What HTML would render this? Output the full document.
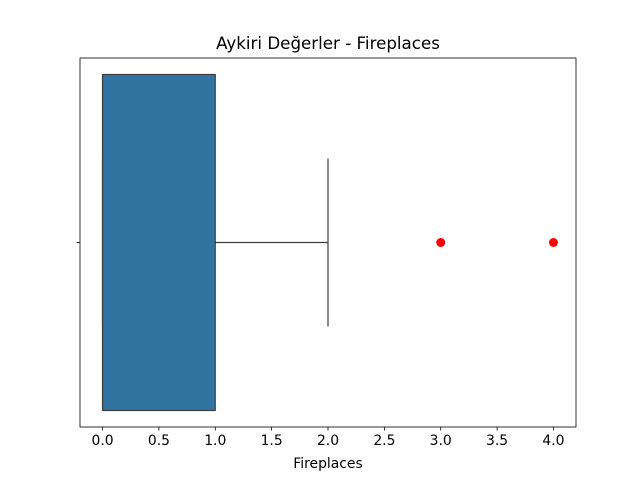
<!DOCTYPE html>
<html><head><meta charset="utf-8"><style>body{margin:0;background:#fff}svg{display:block}text{font-family:"DejaVu Sans","Liberation Sans",sans-serif}</style></head>
<body>
<svg id="c" width="640" height="480" xmlns="http://www.w3.org/2000/svg"></svg>
<script>
const xTicks=[0,0.5,1,1.5,2,2.5,3,3.5,4];
const stats=[0,0,0,1,2]; // whiskerLow, q1, median, q3, whiskerHigh
const outliers=[3,4];
const L=80,R=576,T=58,B=427,xmin=-0.2,xmax=4.2;
const sx=v=>L+(v-xmin)/(xmax-xmin)*(R-L);
const cy=(T+B)/2, hw=168, cw=84;
const svg=document.getElementById('c');const NS='http://www.w3.org/2000/svg';
function el(t,a,txt){const e=document.createElementNS(NS,t);for(const k in a)e.setAttribute(k,a[k]);if(txt!==undefined)e.textContent=txt;svg.appendChild(e);return e;}
let e;
e=el('text',{x:(L+R)/2,y:49,'text-anchor':'middle','font-size':16.7,fill:'#000'},'Aykiri Değerler - Fireplaces');


const [wl,q1,med,q3,wh]=stats;
e=el('line',{x1:sx(q3),x2:sx(wh),y1:cy,y2:cy,stroke:'#3f3f3f','stroke-width':1.2});


e=el('line',{x1:sx(wh),x2:sx(wh),y1:cy-cw,y2:cy+cw,stroke:'#3f3f3f','stroke-width':1.2});


e=el('line',{x1:sx(wl),x2:sx(q1),y1:cy,y2:cy,stroke:'#3f3f3f','stroke-width':1.2});


e=el('line',{x1:sx(wl),x2:sx(wl),y1:cy-cw,y2:cy+cw,stroke:'#3f3f3f','stroke-width':1.2});


e=el('rect',{x:sx(q1),y:cy-hw,width:sx(q3)-sx(q1),height:2*hw,fill:'#3274a1',stroke:'#3f3f3f','stroke-width':1.2});


e=el('line',{x1:sx(med),x2:sx(med),y1:cy-hw,y2:cy+hw,stroke:'#3f3f3f','stroke-width':1.2});


outliers.forEach(v=>{e=el('circle',{cx:sx(v),cy:cy,r:4.5,fill:'#ff0000'});

});
e=el('rect',{x:L,y:T,width:R-L,height:B-T,fill:'none',stroke:'#000','stroke-width':0.8});


e=el('line',{x1:L,x2:L-3.5,y1:cy,y2:cy,stroke:'#000','stroke-width':0.8});


xTicks.forEach(v=>{const x=sx(v);
e=el('line',{x1:x,x2:x,y1:B,y2:B+3.5,stroke:'#000','stroke-width':0.8});


e=el('text',{x:x,y:B+18,'text-anchor':'middle','font-size':13.9,fill:'#000'},v.toFixed(1));

});
e=el('text',{x:(L+R)/2,y:468,'text-anchor':'middle','font-size':13.9,fill:'#000'},'Fireplaces');


</script>
</body></html>
